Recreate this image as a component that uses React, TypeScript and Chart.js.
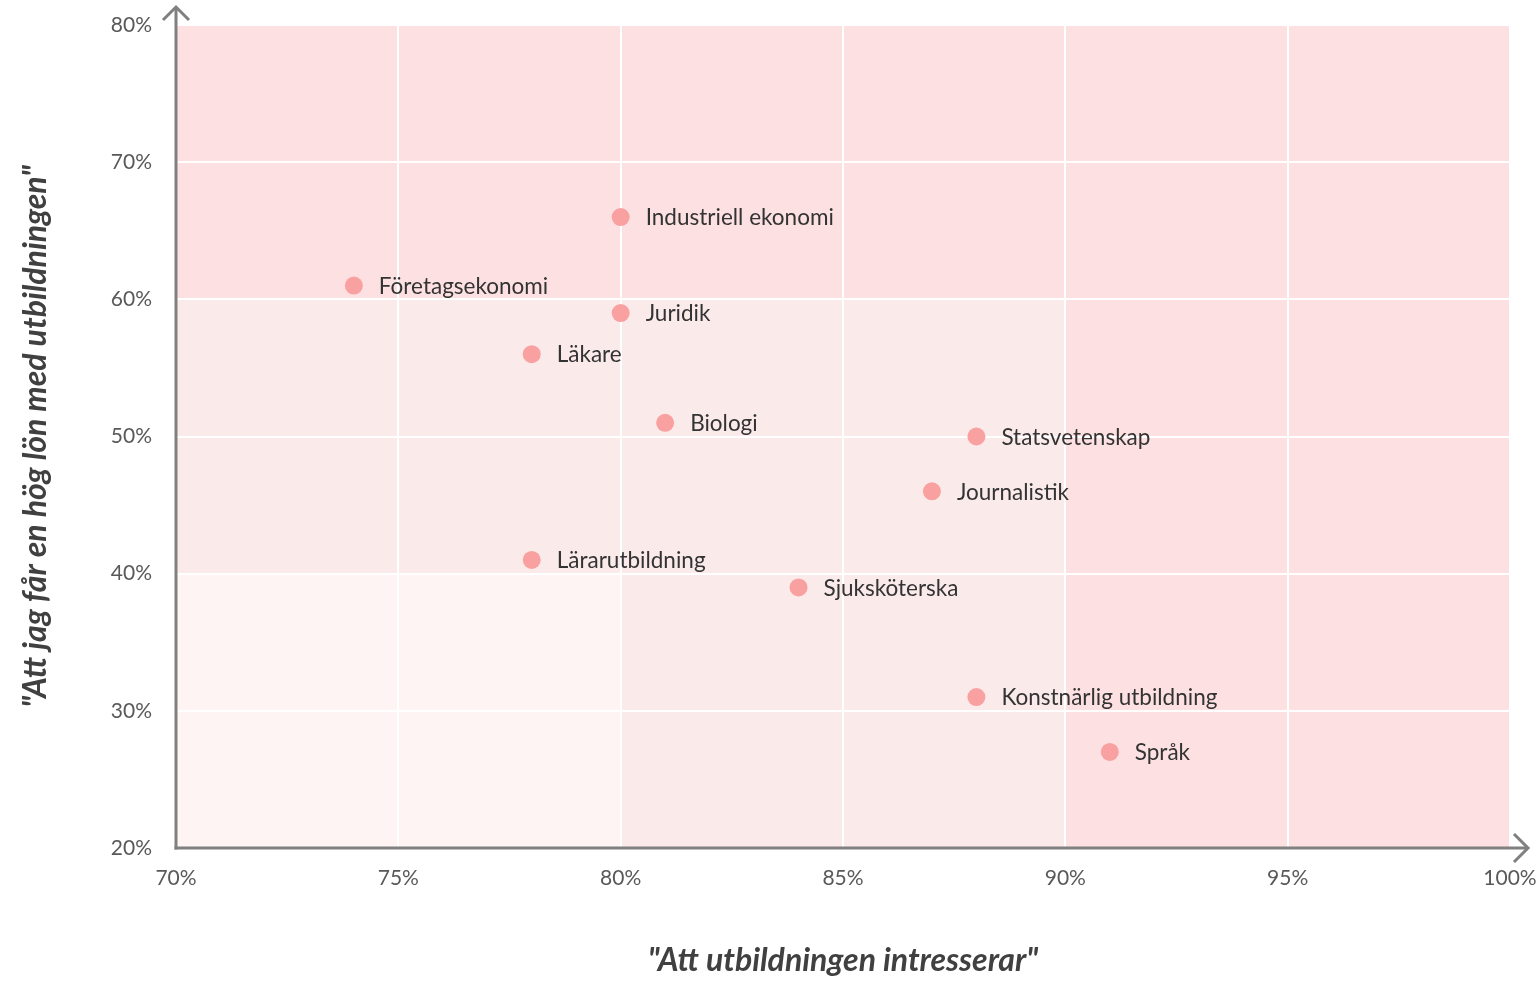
import React, { useEffect, useRef } from "react";
import { Chart, registerables } from "chart.js";

Chart.register(...registerables);

// ---- data ----
const programs = [
  "Industriell ekonomi",
  "Företagsekonomi",
  "Juridik",
  "Läkare",
  "Biologi",
  "Statsvetenskap",
  "Journalistik",
  "Lärarutbildning",
  "Sjuksköterska",
  "Konstnärlig utbildning",
  "Språk",
];
const interestValues = [80, 74, 80, 78, 81, 88, 87, 78, 84, 88, 91];
const salaryValues = [66, 61, 59, 56, 51, 50, 46, 41, 39, 31, 27];

const xTitle = '"Att utbildningen intresserar"';
const yTitle = '"Att jag får en hög lön med utbildningen"';

const xMin = 70;
const xMax = 100;
const xStep = 5;
const yMin = 20;
const yMax = 80;
const yStep = 10;

// zone thresholds (x >= t or y >= t gets the next shade)
const zoneX = [80, 90];
const zoneY = [40, 60];
const zoneColors = ["#fdf4f3", "#fbeaea", "#fde0e1"];

const pointColor = "#f9a1a1";
const axisColor = "#808080";
const tickColor = "#595959";
const labelColor = "#333333";
const titleColor = "#404040";

const bodyFont = "Lato, 'Open Sans', sans-serif";

function zeroPadding(s: any) {
  s.paddingTop = 0;
  s.paddingBottom = 0;
  s.paddingLeft = 0;
  s.paddingRight = 0;
}

export default function App() {
  const canvasRef = useRef<HTMLCanvasElement | null>(null);

  useEffect(() => {
    document.body.style.margin = "0";
    const canvas = canvasRef.current;
    if (!canvas) return;

    const zonesPlugin = {
      id: "zones",
      beforeDraw(chart: any) {
        const { ctx, chartArea } = chart;
        const xs = chart.scales.x;
        const ys = chart.scales.y;
        const { left, right, top, bottom } = chartArea;
        ctx.save();
        ctx.fillStyle = zoneColors[0];
        ctx.fillRect(left, top, right - left, bottom - top);
        for (let i = 0; i < zoneX.length; i++) {
          ctx.fillStyle = zoneColors[i + 1];
          const px = xs.getPixelForValue(zoneX[i]);
          const py = ys.getPixelForValue(zoneY[i]);
          ctx.fillRect(px, top, right - px, bottom - top);
          ctx.fillRect(left, top, right - left, py - top);
        }
        ctx.restore();
      },
    };

    const labelsPlugin = {
      id: "pointLabels",
      afterDatasetsDraw(chart: any) {
        const { ctx } = chart;
        const meta = chart.getDatasetMeta(0);
        ctx.save();
        ctx.font = `22.5px ${bodyFont}`;
        ctx.fillStyle = labelColor;
        ctx.textAlign = "left";
        ctx.textBaseline = "middle";
        meta.data.forEach((pt: any, i: number) => {
          ctx.fillText(programs[i], pt.x + 25, pt.y + 1);
        });
        ctx.restore();
      },
    };

    const axesPlugin = {
      id: "arrowAxes",
      afterDraw(chart: any) {
        const { ctx, chartArea } = chart;
        const { left, right, top, bottom } = chartArea;
        ctx.save();
        ctx.strokeStyle = axisColor;
        ctx.lineWidth = 3;
        ctx.lineCap = "butt";
        ctx.lineJoin = "miter";
        // y axis
        ctx.beginPath();
        ctx.moveTo(left, bottom + 1.5);
        ctx.lineTo(left, top - 18);
        ctx.stroke();
        ctx.beginPath();
        ctx.moveTo(left - 13, top - 5);
        ctx.lineTo(left, top - 18);
        ctx.lineTo(left + 13, top - 5);
        ctx.stroke();
        // x axis
        ctx.beginPath();
        ctx.moveTo(left - 1.5, bottom);
        ctx.lineTo(right + 18, bottom);
        ctx.stroke();
        ctx.beginPath();
        ctx.moveTo(right + 4, bottom - 14);
        ctx.lineTo(right + 18, bottom);
        ctx.lineTo(right + 4, bottom + 14);
        ctx.stroke();
        ctx.restore();
      },
    };

    const chart = new Chart(canvas, {
      type: "scatter",
      data: {
        datasets: [
          {
            label: "Utbildningar",
            data: programs.map((_, i) => ({ x: interestValues[i], y: salaryValues[i] })),
            backgroundColor: pointColor,
            borderWidth: 0,
            pointRadius: 9,
            pointHoverRadius: 9,
          },
        ],
      },
      options: {
        responsive: false,
        animation: false,
        layout: { padding: { left: 0, right: 29, top: 25, bottom: 0 } },
        plugins: {
          legend: { display: false },
          tooltip: { enabled: false },
        },
        scales: {
          x: {
            type: "linear",
            min: xMin,
            max: xMax,
            afterFit: (s: any) => {
              s.height = 134;
              zeroPadding(s);
            },
            ticks: {
              stepSize: xStep,
              color: tickColor,
              font: { family: bodyFont, size: 21 },
              padding: 18,
              callback: (v: any) => `${v}%`,
            },
            grid: { color: "#ffffff", lineWidth: 2, drawTicks: false },
            border: { display: false },
            title: {
              display: true,
              text: xTitle,
              color: titleColor,
              font: { family: bodyFont, size: 32, style: "italic", weight: "bold" },
              padding: { top: 0, bottom: 2 },
            },
          },
          y: {
            type: "linear",
            min: yMin,
            max: yMax,
            afterFit: (s: any) => {
              s.width = 176;
              zeroPadding(s);
            },
            ticks: {
              stepSize: yStep,
              color: tickColor,
              font: { family: bodyFont, size: 21 },
              padding: 24,
              callback: (v: any) => `${v}%`,
            },
            grid: { color: "#ffffff", lineWidth: 2, drawTicks: false },
            border: { display: false },
            title: {
              display: true,
              text: yTitle,
              color: titleColor,
              font: { family: bodyFont, size: 32, style: "italic", weight: "bold" },
              padding: { top: 16, bottom: 0 },
            },
          },
        },
      },
      plugins: [zonesPlugin, labelsPlugin, axesPlugin],
    });

    return () => {
      chart.destroy();
    };
  }, []);

  return (
    <div style={{ width: 1539, height: 982, position: "relative" }}>
      <canvas ref={canvasRef} width={1539} height={982} style={{ display: "block" }} />
    </div>
  );
}
